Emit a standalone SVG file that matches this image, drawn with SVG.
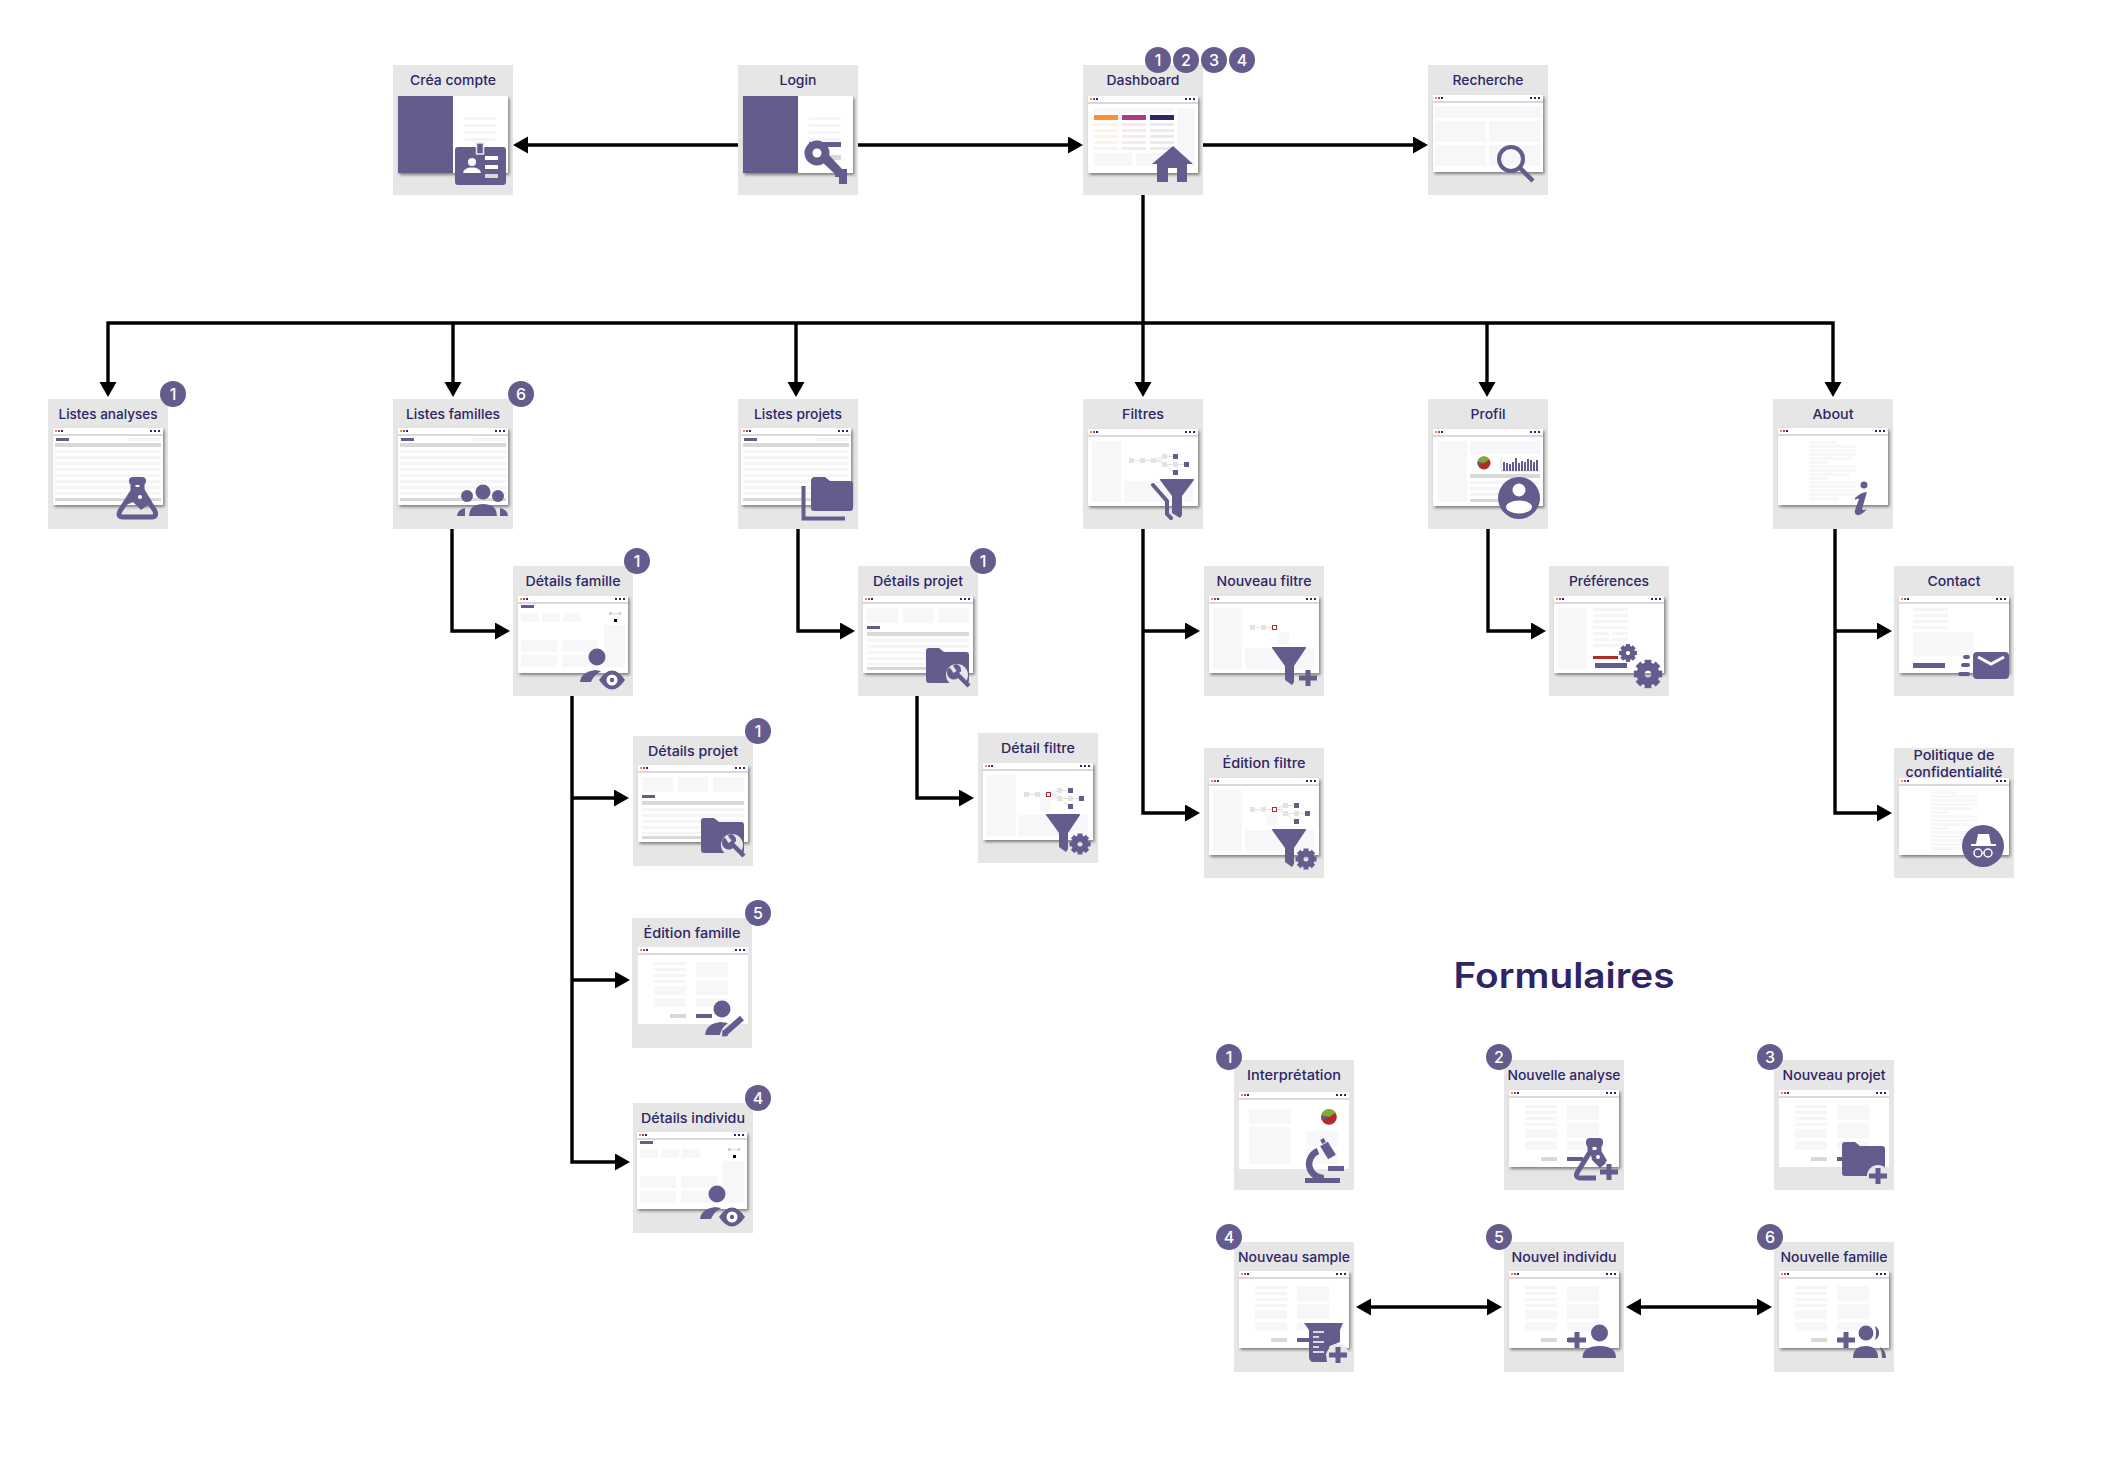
<svg xmlns="http://www.w3.org/2000/svg" width="2104" height="1469" viewBox="0 0 2104 1469">
<style>
.card{fill:#e6e6e6}
.p{fill:#655b8d}
.lt{fill:#f6f7f9}
.g{fill:#d9d9d9}
.r{fill:#f5f5f5}
.n{fill:#2e2567}
.w{fill:#fff}
.sh{filter:url(#shadow)}
.ps{fill:none;stroke:#655b8d}
.t{font-family:"Inter","Noto Sans",sans-serif;font-weight:500;font-size:13.5px;fill:#2e2567;text-anchor:middle}
.bt{font-family:"Inter","Noto Sans",sans-serif;font-weight:500;font-size:16px;fill:#fff;text-anchor:middle}
.title{font-family:"Inter","Noto Sans",sans-serif;font-weight:600;font-size:35px;fill:#2e2567;text-anchor:middle}
.c{fill:none;stroke:#000;stroke-width:3.4}
.a{marker-end:url(#arrow)}
.d{marker-start:url(#arrow);marker-end:url(#arrow)}
</style>
<defs>
<filter id="shadow" x="-10%" y="-10%" width="125%" height="130%"><feDropShadow dx="1.5" dy="2" stdDeviation="1.5" flood-color="#000" flood-opacity="0.45"/></filter>
<marker id="arrow" markerUnits="userSpaceOnUse" markerWidth="16" markerHeight="18" refX="5" refY="8.5" orient="auto-start-reverse"><path d="M0 0L15 8.5L0 17Z" fill="#000"/></marker>
<g id="chrome"><rect width="110" height="77" class="w"/><rect x="2" y="2" width="2" height="2" fill="#ff8f2e"/><rect x="5" y="2" width="2" height="2" fill="#b03a85"/><rect x="8" y="2" width="2" height="2" class="n"/><rect x="97" y="2" width="2" height="2" class="n"/><rect x="101" y="2" width="2" height="2" class="n"/><rect x="105" y="2" width="2" height="2" class="n"/><rect y="6" width="110" height="2" class="g"/></g>
<g id="w-split"><rect width="110" height="77" class="w"/><rect width="55" height="77" class="p"/><rect x="66" y="21" width="32" height="3" class="r"/><rect x="66" y="28" width="32" height="3" class="r"/><rect x="66" y="35" width="32" height="3" class="r"/><rect x="66" y="42" width="32" height="3" class="r"/></g>
<g id="w-dash"><use href="#chrome"/><rect x="6" y="12" width="80" height="5" class="lt"/><rect x="89" y="12" width="18" height="58" class="lt"/><rect x="6" y="19" width="24" height="5" fill="#ff8f2e"/><rect x="34" y="19" width="24" height="5" fill="#b03a85"/><rect x="62" y="19" width="24" height="5" class="n"/><path d="M6 27h24v3H6zM6 33h24v3H6zM6 39h24v3H6zM6 45h24v3H6zM6 51h24v3H6z" fill="#fdf3e7"/><path d="M34 27h24v3H34zM34 33h24v3H34zM34 39h24v3H34zM34 45h24v3H34zM34 51h24v3H34z" fill="#f7e9f0"/><path d="M62 27h24v3H62zM62 33h24v3H62zM62 39h24v3H62zM62 45h24v3H62zM62 51h24v3H62z" fill="#e9e9ee"/><rect x="6" y="57" width="38" height="13" class="lt"/><rect x="48" y="57" width="38" height="13" class="lt"/></g>
<g id="w-search"><use href="#chrome"/><rect x="2" y="11" width="107" height="12" class="lt"/><rect x="2" y="26" width="51" height="21" class="lt"/><rect x="56" y="26" width="51" height="21" class="lt"/><rect x="2" y="50" width="51" height="21" class="lt"/><rect x="56" y="50" width="51" height="21" class="lt"/></g>
<g id="w-list"><use href="#chrome"/><rect x="3" y="10" width="13" height="3" class="p"/><rect x="75" y="10" width="32" height="3" class="r"/><rect x="2" y="15" width="106" height="4" class="g"/><path d="M2 22h106v3H2zM2 28h106v3H2zM2 34h106v3H2zM2 40h106v3H2zM2 46h106v3H2zM2 52h106v3H2zM2 58h106v3H2zM2 64h106v3H2z" class="r"/><rect x="2" y="70" width="106" height="3" class="g"/></g>
<g id="tree"><path d="M46 31.500H74M66 31L77 27M66 31L77 35M79 27.500H85M79 35.500H96M79 37L85 43" stroke="#e3e3e3" stroke-width="1" fill="none"/><path d="M41 29h5v5h-5zM52 29h5v5h-5zM74 25h5v5h-5zM74 33h5v5h-5zM85 33h5v5h-5z" fill="#e3e3e3"/><path d="M85 25h5v5h-5zM96 33h5v5h-5zM85 41h5v5h-5z" class="p"/></g>
<g id="w-filter"><use href="#chrome"/><rect x="4" y="12" width="29" height="61" class="lt"/><rect x="36" y="52" width="69" height="21" class="lt"/><use href="#tree"/><rect x="63" y="29" width="5" height="5" fill="#e3e3e3"/></g>
<g id="w-filter-new"><use href="#chrome"/><rect x="4" y="12" width="29" height="61" class="lt"/><rect x="36" y="52" width="69" height="21" class="lt"/><rect x="69" y="36" width="11" height="12" class="lt"/><path d="M46 31.500H63" stroke="#e3e3e3" stroke-width="1"/><path d="M41 29h5v5h-5zM52 29h5v5h-5z" fill="#e3e3e3"/><rect x="63.500" y="29.500" width="4" height="4" fill="#fff" stroke="#b22c2c"/></g>
<g id="w-filter-edit"><use href="#chrome"/><rect x="4" y="12" width="29" height="61" class="lt"/><rect x="36" y="52" width="69" height="21" class="lt"/><rect x="57" y="36" width="11" height="12" class="lt"/><use href="#tree"/><rect x="63.500" y="29.500" width="4" height="4" fill="#fff" stroke="#b22c2c"/></g>
<g id="w-profil"><use href="#chrome"/><rect x="5" y="12" width="29" height="61" class="lt"/><rect x="37" y="12" width="70" height="13" class="lt"/><use href="#pie" x="51" y="34"/><path d="M68 28V42H107" fill="none" stroke="#d9d9d9"/><path d="M70 33h2v9h-2zM73 34h2v8h-2zM76 35h2v7h-2zM79 33h2v9h-2zM82 29h2v13h-2zM85 34h2v8h-2zM88 32h2v10h-2zM91 33h2v9h-2zM94 30h2v12h-2zM97 31h2v11h-2zM100 33h2v9h-2zM103 31h2v11h-2z" class="p"/><rect x="37" y="45" width="70" height="4" class="g"/><path d="M37 52h70v3H37zM37 58h70v3H37zM37 64h70v3H37z" class="r"/><rect x="37" y="70" width="70" height="3" class="g"/></g>
<g id="pie"><circle r="6.500" fill="#b22c2c"/><path d="M0 0L-6.300-1.500A6.500 6.500 0 0 1 5.500-3.500Z" fill="#7ab02e"/><path d="M0 0L-6.300-1.500A6.500 6.500 0 0 0-6 2.500Z" class="p"/></g>
<g id="w-about"><use href="#chrome"/><path d="M32 13h26v3H32zM32 17h46v3H32zM32 21h46v3H32zM32 25h46v3H32zM32 29h41v3H32zM32 33h17v3H32zM32 37h46v3H32zM32 41h46v3H32zM32 45h40v3H32zM32 49h17v3H32zM32 53h46v3H32zM32 57h46v3H32zM32 61h46v3H32zM32 65h46v3H32zM32 69h28v3H32z" class="lt"/></g>
<g id="w-detail"><use href="#chrome"/><rect x="3" y="9" width="13" height="3" class="p"/><path d="M3 17h18v9H3zM24 17h18v9H24zM45 17h18v9H45z" class="lt"/><path d="M91 17.500H102" stroke="#ddd" stroke-width="1"/><rect x="91" y="16" width="3" height="3" fill="#d0d0d0"/><circle cx="102" cy="17.500" r="1.500" fill="#d0d0d0"/><rect x="96" y="23" width="3" height="3" fill="#000"/><rect x="86" y="29" width="21" height="42" class="lt"/><path d="M3 44h36v12H3zM44 44h36v12H44zM3 59h36v12H3zM44 59h36v12H44z" class="lt"/></g>
<g id="w-proj"><use href="#chrome"/><path d="M4 12h31v15H4zM40 12h30v15H40zM75 12h31v15H75z" class="lt"/><rect x="4" y="30" width="13" height="3" class="p"/><rect x="4" y="36" width="102" height="4" class="g"/><path d="M4 43h102v3H4zM4 49h102v3H4zM4 55h102v3H4zM4 61h102v3H4zM4 67h102v2H4z" class="r"/><rect x="4" y="71" width="102" height="3" class="g"/></g>
<g id="w-form"><use href="#chrome"/><path d="M16 15h32v3H16zM16 21h32v3H16zM16 27h32v3H16zM16 33h32v3H16z" class="r"/><path d="M16 39h32v9H16zM16 51h32v9H16zM58 15h32v15H58zM58 33h32v15H58zM58 51h32v9H58z" class="lt"/><rect x="32" y="67" width="16" height="4" class="g"/><rect x="58" y="67" width="16" height="4" class="p"/></g>
<g id="w-pref"><use href="#chrome"/><rect x="4" y="12" width="29" height="61" class="lt"/><path d="M39 12h35v3H39zM39 18h35v3H39zM39 24h35v3H39zM39 30h35v3H39zM39 36h16v3H39zM58 36h16v3H58zM39 42h16v3H39zM58 42h16v3H58zM39 48h35v3H39z" class="r"/><rect x="39" y="60" width="25" height="3" fill="#b22c2c"/><rect x="41" y="67" width="32" height="5" class="p"/></g>
<g id="w-contact"><use href="#chrome"/><path d="M14 12h35v3H14zM14 18h35v3H14zM14 24h35v3H14zM14 30h35v3H14z" class="r"/><rect x="14" y="36" width="60" height="24" class="lt"/><rect x="14" y="67" width="32" height="5" class="p"/></g>
<g id="w-interp"><use href="#chrome"/><path d="M10 17h42v15H10zM10 35h42v37H10zM67 39h32v15H67zM67 57h32v15H67z" class="lt"/><g transform="translate(90 25) scale(1.2)"><use href="#pie"/></g></g>
<g id="gear"><circle r="5.500" fill="none" stroke="#655b8d" stroke-width="6"/><g class="p"><rect x="-2.500" y="-10.500" width="5" height="4"/><rect x="-2.500" y="-10.500" width="5" height="4" transform="rotate(45)"/><rect x="-2.500" y="-10.500" width="5" height="4" transform="rotate(90)"/><rect x="-2.500" y="-10.500" width="5" height="4" transform="rotate(135)"/><rect x="-2.500" y="-10.500" width="5" height="4" transform="rotate(180)"/><rect x="-2.500" y="-10.500" width="5" height="4" transform="rotate(225)"/><rect x="-2.500" y="-10.500" width="5" height="4" transform="rotate(270)"/><rect x="-2.500" y="-10.500" width="5" height="4" transform="rotate(315)"/></g></g>
<g id="i-id"><rect x="62" y="82" width="51" height="38" rx="3" class="p"/><rect x="83.500" y="78" width="7" height="11" class="p" stroke="#e6e6e6" stroke-width="1.500"/><circle cx="79" cy="97" r="4" class="w"/><path d="M70 108Q71 102.500 79 102.500Q87 102.500 88 108Z" class="w"/><rect x="92" y="91" width="13" height="4" class="w"/><rect x="92" y="100" width="13" height="4" class="w"/><rect x="92" y="109" width="13" height="4" class="g"/></g>
<g id="i-key"><rect x="71" y="77" width="32" height="5" class="p"/><rect x="92" y="90" width="11" height="5" class="g"/><circle cx="79" cy="88" r="12.500" class="p"/><circle cx="79" cy="88" r="4.500" class="w"/><path d="M84 97L91 90L104 104H109V119H101V112H97V109Z" class="p"/></g>
<g id="i-home"><path d="M90 81L110 99H104V117H94V103H85V117H74V99H69Z" class="p"/></g>
<g id="i-search"><circle cx="83" cy="94" r="12" class="ps" stroke-width="4"/><path d="M92 103L105 116" class="ps" stroke-width="4.500"/></g>
<g id="flask"><rect x="81" y="78" width="17" height="8" rx="4" class="p"/><path d="M85 85V92L72 112Q69 118 75 118H104Q109 118 107 112L94 92V85" class="ps" stroke-width="5"/><path d="M84 88H95L104 103L93 111L85 103L78 106Z" class="p"/><circle cx="92" cy="98" r="2" class="w"/></g>
<g id="i-family"><circle cx="90" cy="93" r="7.500" class="p"/><circle cx="74" cy="97" r="6" class="p"/><circle cx="105" cy="97" r="6" class="p"/><path d="M76 117Q76 105 90 105Q104 105 104 117Z" class="p"/><path d="M64 117Q64 111 72 109V117Z" class="p"/><path d="M115 117Q115 111 107 109V117Z" class="p"/></g>
<g id="i-folders"><path d="M73 82Q73 78 77 78H87L92 82H112Q115 82 115 85V109Q115 112 112 112H76Q73 112 73 109Z" class="p"/><path d="M65.500 87V119.500H107" class="ps" stroke-width="4"/></g>
<g id="i-funnels"><path d="M77 81Q76 80 78 80H110Q112 80 111 81L99 97V116L97 119L89 114V97Z" class="p"/><path d="M70 86L84 102V115L88 119" class="ps" stroke-width="4" stroke-linecap="round"/></g>
<g id="funnel"><path d="M68 82Q67 81 69 81H101Q103 81 102 82L90 100V116L88 119L81 114V100Z" class="p"/></g>
<path id="plus" d="M-9 0H9M0-8V8" fill="none" stroke="#655b8d" stroke-width="5"/>
<g id="i-funnel-plus"><use href="#funnel"/><use href="#plus" x="104" y="112"/></g>
<g id="i-funnel-gear"><use href="#funnel"/><use href="#gear" x="102" y="111"/></g>
<g id="i-user-eye"><circle cx="84" cy="91" r="8.500" class="p"/><path d="M67 116Q68 106 82 104L88 105Q80 110 78 116Z" class="p"/><path d="M86 114Q99 95 112 114Q99 133 86 114Z" class="p"/><circle cx="99" cy="114" r="5.500" class="w"/><circle cx="99" cy="114" r="2.200" class="p"/></g>
<g id="wrench"><circle cx="99" cy="109" r="11" fill="#e6e6e6"/><path d="M99 108L111 120" class="ps" stroke-width="4.500"/><path d="M91.500 101.500A6.500 6.500 0 0 0 100 112L102 105Z" class="p"/><path d="M92.500 101L98 98A6.500 6.500 0 0 1 103 106Z" class="p"/><path d="M93 100L97 106" stroke="#e6e6e6" stroke-width="3.500" fill="none"/></g>
<g id="i-folder-tool"><path d="M68 85Q68 82 71 82H81L86 86H108Q111 86 111 89V114Q111 117 108 117H71Q68 117 68 114Z" class="p"/><use href="#wrench"/></g>
<g id="i-user-pen"><circle cx="90" cy="91" r="8.500" class="p"/><path d="M73 117Q74 106 88 104L96 105Q89 110 88 117Z" class="p"/><path d="M93 115L110 100" class="ps" stroke-width="6"/><path d="M90 118.500L90.500 111.500L96.500 118Z" class="p"/></g>
<g id="i-gears"><g transform="translate(79 87) scale(.85)"><use href="#gear"/></g><g transform="translate(99 108) scale(1.350)"><use href="#gear"/></g></g>
<g id="i-mail"><rect x="79" y="86" width="36" height="27" rx="4" class="p"/><path d="M84 91L97 98L110 91" fill="none" stroke="#fff" stroke-width="3"/><path d="M71 91H74M69 99H74M66 108H74" class="ps" stroke-width="4" stroke-linecap="round"/></g>
<g id="i-spy"><circle cx="89" cy="98" r="21" class="p"/><path d="M84 86H95L97 96H102V98H77V96H82Z" class="w"/><circle cx="84" cy="105" r="4" fill="none" stroke="#fff" stroke-width="1.500"/><circle cx="94" cy="105" r="4" fill="none" stroke="#fff" stroke-width="1.500"/><path d="M88 105H90" stroke="#fff"/></g>
<g id="i-info"><circle cx="91" cy="86" r="3.500" class="p"/><path d="M82 99Q88 93 94 93L89 110Q90 112 94 110Q88 117 84 116Q81 115 82 111L86 100Q84 99 82 101Z" class="p"/></g>
<g id="i-user-round"><circle cx="91" cy="99" r="21" class="p"/><circle cx="91" cy="91" r="6.500" class="w"/><ellipse cx="91" cy="108" rx="13" ry="6.500" class="w"/></g>
<g id="i-micro"><path d="M71 118H106V123H71ZM94 106H110V111H94Z" class="p"/><path d="M84 91A14 14 0 0 0 90 118" class="ps" stroke-width="6.500"/><path d="M90 84L98 97" class="ps" stroke-width="9"/><path d="M88 79L90 83" class="ps" stroke-width="4"/></g>
<g id="i-flask-plus"><rect x="82" y="78" width="17" height="9" rx="4" class="p"/><path d="M86 86V92L73 113Q71 118 77 118H92" class="ps" stroke-width="5"/><path d="M95 86V92L101 102" class="ps" stroke-width="5"/><path d="M86 90H95L102 103L96 108L88 100Z" class="p"/><circle cx="94" cy="97" r="2" class="w"/><use href="#plus" x="105" y="112"/></g>
<g id="i-folder-plus"><path d="M68 85Q68 82 71 82H81L86 86H108Q111 86 111 89V113Q111 116 108 116H71Q68 116 68 113Z" class="p"/><circle cx="104" cy="116" r="11" fill="#e6e6e6"/><use href="#plus" x="104" y="116"/></g>
<g id="i-beaker-plus"><path d="M70 81H109L106 88V100L96 104L92 112L93 120H80Q75 120 75 115V88Z" class="p"/><path d="M79 90H90M79 95H85M79 100H90M79 105H85M79 110H90" stroke="#fff" stroke-width="1.300" fill="none"/><circle cx="104" cy="113" r="11" fill="#e6e6e6"/><use href="#plus" x="104" y="113"/></g>
<g id="i-user-plus"><ellipse cx="95.500" cy="91" rx="8.500" ry="8.500" class="p"/><path d="M78.500 116Q78.500 104 95.500 104Q112 104 112 116Z" class="p"/><use href="#plus" x="73" y="98"/></g>
<g id="i-users-plus"><circle cx="92" cy="91" r="7.500" class="p"/><path d="M101 84A8 8 0 0 1 101 98Q103 91 101 84Z" class="p"/><path d="M79 116Q79 104 92 104Q104 104 104 116Z" class="p"/><path d="M106 105Q112 108 112 116H108Q108 110 106 105Z" class="p"/><use href="#plus" x="72" y="98"/></g>
</defs>
<rect width="2104" height="1469" fill="#fff"/>
<g id="connectors">
<path class="c a" d="M738 145H523"/>
<path class="c a" d="M858 145H1073"/>
<path class="c a" d="M1203 145H1418"/>
<path class="c a" d="M1143 195V387"/>
<path class="c a" d="M1143 323H108V387"/>
<path class="c a" d="M453 323V387"/>
<path class="c a" d="M796 323V387"/>
<path class="c a" d="M1143 323H1833V387"/>
<path class="c a" d="M1487 323V387"/>
<path class="c a" d="M452 529V631H500"/>
<path class="c a" d="M798 529V631H845"/>
<path class="c a" d="M572 696V1162H620"/>
<path class="c a" d="M572 798H619"/>
<path class="c a" d="M572 980H620"/>
<path class="c a" d="M917 696V798H964"/>
<path class="c a" d="M1143 529V813H1190"/>
<path class="c a" d="M1143 631H1190"/>
<path class="c a" d="M1488 529V631H1536"/>
<path class="c a" d="M1835 529V813H1882"/>
<path class="c a" d="M1835 631H1882"/>
<path class="c d" d="M1366 1307H1492"/>
<path class="c d" d="M1636 1307H1762"/>
</g>
<g id="crea-compte"><rect x="393" y="65" width="120" height="130" class="card"/><text x="453" y="85" class="t" textLength="86" lengthAdjust="spacingAndGlyphs">Créa compte</text><use href="#w-split" x="398" y="96" class="sh"/><use href="#i-id" x="393" y="65"/></g>
<g id="login"><rect x="738" y="65" width="120" height="130" class="card"/><text x="798" y="85" class="t" textLength="37" lengthAdjust="spacingAndGlyphs">Login</text><use href="#w-split" x="743" y="96" class="sh"/><use href="#i-key" x="738" y="65"/></g>
<g id="dashboard"><rect x="1083" y="65" width="120" height="130" class="card"/><text x="1143" y="85" class="t" textLength="73" lengthAdjust="spacingAndGlyphs">Dashboard</text><use href="#w-dash" x="1088" y="96" class="sh"/><use href="#i-home" x="1083" y="65"/>
<circle cx="1158" cy="60" r="13" class="p"/><text x="1158" y="65.800" class="bt">1</text><circle cx="1186" cy="60" r="13" class="p"/><text x="1186" y="65.800" class="bt">2</text><circle cx="1214" cy="60" r="13" class="p"/><text x="1214" y="65.800" class="bt">3</text><circle cx="1242" cy="60" r="13" class="p"/><text x="1242" y="65.800" class="bt">4</text></g>
<g id="recherche"><rect x="1428" y="65" width="120" height="130" class="card"/><text x="1488" y="85" class="t" textLength="71" lengthAdjust="spacingAndGlyphs">Recherche</text><use href="#w-search" x="1433" y="95" class="sh"/><use href="#i-search" x="1428" y="65"/></g>
<g id="listes-analyses"><rect x="48" y="399" width="120" height="130" class="card"/><text x="108" y="419" class="t" textLength="99" lengthAdjust="spacingAndGlyphs">Listes analyses</text><use href="#w-list" x="53" y="428" class="sh"/><use href="#flask" x="48" y="399"/><circle cx="173" cy="394" r="13" class="p"/><text x="173" y="399.800" class="bt">1</text></g>
<g id="listes-familles"><rect x="393" y="399" width="120" height="130" class="card"/><text x="453" y="419" class="t" textLength="94" lengthAdjust="spacingAndGlyphs">Listes familles</text><use href="#w-list" x="398" y="428" class="sh"/><use href="#i-family" x="393" y="399"/><circle cx="521" cy="394" r="13" class="p"/><text x="521" y="399.800" class="bt">6</text></g>
<g id="listes-projets"><rect x="738" y="399" width="120" height="130" class="card"/><text x="798" y="419" class="t" textLength="88" lengthAdjust="spacingAndGlyphs">Listes projets</text><use href="#w-list" x="741" y="428" class="sh"/><use href="#i-folders" x="738" y="399"/></g>
<g id="filtres"><rect x="1083" y="399" width="120" height="130" class="card"/><text x="1143" y="419" class="t" textLength="42" lengthAdjust="spacingAndGlyphs">Filtres</text><use href="#w-filter" x="1088" y="429" class="sh"/><use href="#i-funnels" x="1083" y="399"/></g>
<g id="profil"><rect x="1428" y="399" width="120" height="130" class="card"/><text x="1488" y="419" class="t" textLength="35" lengthAdjust="spacingAndGlyphs">Profil</text><use href="#w-profil" x="1433" y="429" class="sh"/><use href="#i-user-round" x="1428" y="399"/></g>
<g id="about"><rect x="1773" y="399" width="120" height="130" class="card"/><text x="1833" y="419" class="t" textLength="41" lengthAdjust="spacingAndGlyphs">About</text><use href="#w-about" x="1778" y="428" class="sh"/><use href="#i-info" x="1773" y="399"/></g>
<g id="details-famille"><rect x="513" y="566" width="120" height="130" class="card"/><text x="573" y="586" class="t" textLength="95" lengthAdjust="spacingAndGlyphs">Détails famille</text><use href="#w-detail" x="518" y="596" class="sh"/><use href="#i-user-eye" x="513" y="566"/><circle cx="637" cy="561" r="13" class="p"/><text x="637" y="566.800" class="bt">1</text></g>
<g id="details-projet-a"><rect x="858" y="566" width="120" height="130" class="card"/><text x="918" y="586" class="t" textLength="90" lengthAdjust="spacingAndGlyphs">Détails projet</text><use href="#w-proj" x="863" y="596" class="sh"/><use href="#i-folder-tool" x="858" y="566"/><circle cx="983" cy="561" r="13" class="p"/><text x="983" y="566.800" class="bt">1</text></g>
<g id="details-projet-b"><rect x="633" y="736" width="120" height="130" class="card"/><text x="693" y="756" class="t" textLength="90" lengthAdjust="spacingAndGlyphs">Détails projet</text><use href="#w-proj" x="638" y="765" class="sh"/><use href="#i-folder-tool" x="633" y="736"/><circle cx="758" cy="731" r="13" class="p"/><text x="758" y="736.800" class="bt">1</text></g>
<g id="detail-filtre"><rect x="978" y="733" width="120" height="130" class="card"/><text x="1038" y="753" class="t" textLength="74" lengthAdjust="spacingAndGlyphs">Détail filtre</text><use href="#w-filter-edit" x="983" y="763" class="sh"/><use href="#i-funnel-gear" x="978" y="733"/></g>
<g id="nouveau-filtre"><rect x="1204" y="566" width="120" height="130" class="card"/><text x="1264" y="586" class="t" textLength="95" lengthAdjust="spacingAndGlyphs">Nouveau filtre</text><use href="#w-filter-new" x="1209" y="596" class="sh"/><use href="#i-funnel-plus" x="1204" y="566"/></g>
<g id="edition-filtre"><rect x="1204" y="748" width="120" height="130" class="card"/><text x="1264" y="768" class="t" textLength="83" lengthAdjust="spacingAndGlyphs">Édition filtre</text><use href="#w-filter-edit" x="1209" y="778" class="sh"/><use href="#i-funnel-gear" x="1204" y="748"/></g>
<g id="preferences"><rect x="1549" y="566" width="120" height="130" class="card"/><text x="1609" y="586" class="t" textLength="80" lengthAdjust="spacingAndGlyphs">Préférences</text><use href="#w-pref" x="1554" y="596" class="sh"/><use href="#i-gears" x="1549" y="566"/></g>
<g id="contact"><rect x="1894" y="566" width="120" height="130" class="card"/><text x="1954" y="586" class="t" textLength="53" lengthAdjust="spacingAndGlyphs">Contact</text><use href="#w-contact" x="1899" y="596" class="sh"/><use href="#i-mail" x="1894" y="566"/></g>
<g id="politique"><rect x="1894" y="748" width="120" height="130" class="card"/><text x="1954" y="760" class="t" textLength="81" lengthAdjust="spacingAndGlyphs">Politique de</text><text x="1954" y="777" class="t" textLength="97" lengthAdjust="spacingAndGlyphs">confidentialité</text><use href="#w-about" x="1899" y="778" class="sh"/><use href="#i-spy" x="1894" y="748"/></g>
<g id="edition-famille"><rect x="632" y="918" width="120" height="130" class="card"/><text x="692" y="938" class="t" textLength="97" lengthAdjust="spacingAndGlyphs">Édition famille</text><use href="#w-form" x="638" y="947"/><use href="#i-user-pen" x="632" y="918"/><circle cx="758" cy="913" r="13" class="p"/><text x="758" y="918.800" class="bt">5</text></g>
<g id="details-individu"><rect x="633" y="1103" width="120" height="130" class="card"/><text x="693" y="1123" class="t" textLength="104" lengthAdjust="spacingAndGlyphs">Détails individu</text><use href="#w-detail" x="637" y="1132" class="sh"/><use href="#i-user-eye" x="633" y="1103"/><circle cx="758" cy="1098" r="13" class="p"/><text x="758" y="1103.800" class="bt">4</text></g>
<text x="1564" y="988" class="title" textLength="221" lengthAdjust="spacingAndGlyphs">Formulaires</text>
<g id="interpretation"><rect x="1234" y="1060" width="120" height="130" class="card"/><text x="1294" y="1080" class="t" textLength="94" lengthAdjust="spacingAndGlyphs">Interprétation</text><use href="#w-interp" x="1239" y="1092"/><use href="#i-micro" x="1234" y="1060"/><circle cx="1229" cy="1057" r="13" class="p"/><text x="1229" y="1062.800" class="bt">1</text></g>
<g id="nouvelle-analyse"><rect x="1504" y="1060" width="120" height="130" class="card"/><text x="1564" y="1080" class="t" textLength="113" lengthAdjust="spacingAndGlyphs">Nouvelle analyse</text><use href="#w-form" x="1509" y="1090" class="sh"/><use href="#i-flask-plus" x="1504" y="1060"/><circle cx="1499" cy="1057" r="13" class="p"/><text x="1499" y="1062.800" class="bt">2</text></g>
<g id="nouveau-projet"><rect x="1774" y="1060" width="120" height="130" class="card"/><text x="1834" y="1080" class="t" textLength="103" lengthAdjust="spacingAndGlyphs">Nouveau projet</text><use href="#w-form" x="1779" y="1090"/><use href="#i-folder-plus" x="1774" y="1060"/><circle cx="1770" cy="1057" r="13" class="p"/><text x="1770" y="1062.800" class="bt">3</text></g>
<g id="nouveau-sample"><rect x="1234" y="1242" width="120" height="130" class="card"/><text x="1294" y="1262" class="t" textLength="112" lengthAdjust="spacingAndGlyphs">Nouveau sample</text><use href="#w-form" x="1239" y="1271" class="sh"/><use href="#i-beaker-plus" x="1234" y="1242"/><circle cx="1229" cy="1237" r="13" class="p"/><text x="1229" y="1242.800" class="bt">4</text></g>
<g id="nouvel-individu"><rect x="1504" y="1242" width="120" height="130" class="card"/><text x="1564" y="1262" class="t" textLength="105" lengthAdjust="spacingAndGlyphs">Nouvel individu</text><use href="#w-form" x="1509" y="1271" class="sh"/><use href="#i-user-plus" x="1504" y="1242"/><circle cx="1499" cy="1237" r="13" class="p"/><text x="1499" y="1242.800" class="bt">5</text></g>
<g id="nouvelle-famille"><rect x="1774" y="1242" width="120" height="130" class="card"/><text x="1834" y="1262" class="t" textLength="107" lengthAdjust="spacingAndGlyphs">Nouvelle famille</text><use href="#w-form" x="1779" y="1271" class="sh"/><use href="#i-users-plus" x="1774" y="1242"/><circle cx="1770" cy="1237" r="13" class="p"/><text x="1770" y="1242.800" class="bt">6</text></g>
</svg>
